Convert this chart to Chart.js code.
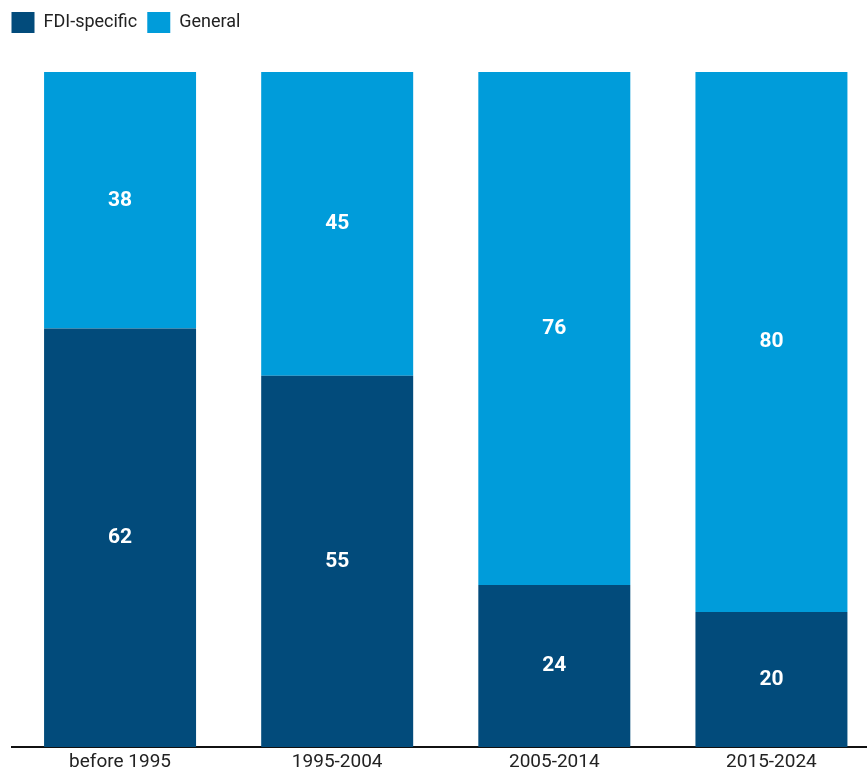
<!DOCTYPE html>
<html lang="en">
<head>
    <meta charset="UTF-8">
    <script src="https://cdn.jsdelivr.net/npm/chart.js"></script>
    <title>FDI-specific vs General</title>
    <style>
        html, body { margin: 0; padding: 0; overflow: hidden; background: #fff; }
        .wrap { width: 880px; height: 773px; }
    </style>
</head>
<body>
    <div class="wrap">
        <canvas id="grafico" width="880" height="773"></canvas>
    </div>
    <script>
        // dados do gráfico
        const categorias = ['before 1995', '1995-2004', '2005-2014', '2015-2024'];
        const fdiEspecifico = [62, 55, 24, 20];
        const geral = [38, 45, 76, 80];

        const fonte = "'Liberation Sans Narrow', 'Roboto', sans-serif";

        // rótulos brancos no meio de cada segmento
        const rotulos = {
            id: 'rotulos',
            afterDatasetsDraw(chart) {
                const ctx = chart.ctx;
                ctx.save();
                ctx.fillStyle = '#fff';
                ctx.font = 'bold 21px ' + fonte;
                ctx.textAlign = 'center';
                ctx.textBaseline = 'middle';
                chart.data.datasets.forEach((ds, i) => {
                    chart.getDatasetMeta(i).data.forEach((bar, j) => {
                        const meio = (bar.y + bar.base) / 2;
                        ctx.fillText(ds.data[j], bar.x, meio);
                    });
                });
                ctx.restore();
            }
        };

        // espaço extra abaixo da legenda e legenda encostada à esquerda
        const ajusteLegenda = {
            id: 'ajusteLegenda',
            beforeInit(chart) {
                const fitOriginal = chart.legend.fit;
                chart.legend.fit = function () {
                    fitOriginal.bind(chart.legend)();
                    this.height += 29;
                };
            },
            afterLayout(chart) {
                chart.legend.left -= 10;
                chart.legend.right -= 10;
            }
        };

        new Chart(document.getElementById('grafico'), {
            type: 'bar',
            data: {
                labels: categorias,
                datasets: [
                    { label: 'FDI-specific', data: fdiEspecifico, backgroundColor: '#024b7b' },
                    { label: 'General', data: geral, backgroundColor: '#009cda' }
                ]
            },
            options: {
                responsive: false,
                animation: false,
                layout: { padding: { left: 11.5, right: 0, top: 2, bottom: 0 } },
                datasets: { bar: { barPercentage: 0.7, categoryPercentage: 1 } },
                plugins: {
                    legend: {
                        position: 'top',
                        align: 'start',
                        labels: {
                            boxWidth: 23,
                            boxHeight: 21,
                            padding: 10,
                            color: '#222',
                            font: { family: fonte, size: 18 }
                        }
                    },
                    tooltip: { enabled: false }
                },
                scales: {
                    x: {
                        stacked: true,
                        grid: { display: false, drawTicks: false, tickLength: 0 },
                        border: { display: true, color: '#111', width: 2 },
                        ticks: { color: '#222', font: { family: fonte, size: 19 }, padding: 4 },
                        afterFit(scale) { scale.height = 26; }
                    },
                    y: {
                        stacked: true,
                        display: false,
                        min: 0,
                        max: 100
                    }
                }
            },
            plugins: [rotulos, ajusteLegenda]
        });
    </script>
</body>
</html>
